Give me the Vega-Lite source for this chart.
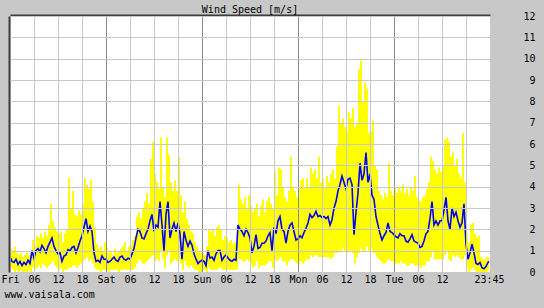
{
  "$schema": "https://vega.github.io/schema/vega-lite/v6.json",
  "width": 480,
  "height": 256,
  "autosize": {"type": "none"},
  "padding": {"left": 10, "top": 16, "right": 54, "bottom": 36},
  "background": "#c8c8c8",
  "title": {"text": "Wind Speed [m/s]", "font": "DejaVu Sans Mono", "fontSize": 10, "fontWeight": "normal", "color": "#000000", "offset": -5, "dy": 7, "anchor": "middle", "baseline": "alphabetic"},
  "config": {
    "view": {"fill": "#ffffff", "stroke": null},
    "axis": {"labelFont": "DejaVu Sans Mono", "labelFontSize": 10, "labelColor": "#000000", "titleFont": "DejaVu Sans Mono", "titleFontSize": 10, "titleFontWeight": "normal", "titleColor": "#000000"}
  },
  "data": {"values": [
    {"t":0,"a":0.7,"lo":0.2,"hi":1.1},{"t":0.5,"a":0.5,"lo":0.1,"hi":1.0},{"t":1,"a":0.45,"lo":0,"hi":1.2},{"t":1.5,"a":0.6,"lo":0.1,"hi":0.9},
    {"t":2,"a":0.35,"lo":0,"hi":0.8},{"t":2.5,"a":0.5,"lo":0.1,"hi":0.9},{"t":3,"a":0.3,"lo":0,"hi":0.7},{"t":3.5,"a":0.45,"lo":0,"hi":0.8},
    {"t":4,"a":0.35,"lo":0,"hi":0.9},{"t":4.5,"a":0.55,"lo":0.1,"hi":0.8},{"t":5,"a":0.4,"lo":0,"hi":0.9},{"t":5.5,"a":1.0,"lo":0.2,"hi":1.5},
    {"t":6,"a":0.65,"lo":0.1,"hi":1.2},{"t":6.5,"a":1.0,"lo":0.2,"hi":1.7},{"t":7,"a":1.1,"lo":0.3,"hi":1.6},{"t":7.5,"a":0.95,"lo":0.2,"hi":1.8},
    {"t":8,"a":1.25,"lo":0.4,"hi":1.6},{"t":8.5,"a":1.1,"lo":0.3,"hi":1.9},{"t":9,"a":0.9,"lo":0.2,"hi":1.7},{"t":9.5,"a":1.2,"lo":0.3,"hi":2.2},
    {"t":10,"a":1.4,"lo":0.4,"hi":3.2},{"t":10.5,"a":1.6,"lo":0.5,"hi":2.4},{"t":11,"a":1.2,"lo":0.3,"hi":2.1},{"t":11.5,"a":1.0,"lo":0.2,"hi":1.9},
    {"t":12,"a":0.85,"lo":0.1,"hi":1.8},{"t":12.5,"a":0.9,"lo":0.2,"hi":1.9},{"t":13,"a":0.5,"lo":0,"hi":1.4},{"t":13.5,"a":0.75,"lo":0.1,"hi":1.8},
    {"t":14,"a":0.8,"lo":0.1,"hi":2.0},{"t":14.5,"a":1.05,"lo":0.2,"hi":4.4},{"t":15,"a":1.0,"lo":0.2,"hi":3.0},{"t":15.5,"a":1.15,"lo":0.3,"hi":3.8},
    {"t":16,"a":1.2,"lo":0.3,"hi":2.7},{"t":16.5,"a":0.9,"lo":0.2,"hi":2.6},{"t":17,"a":1.15,"lo":0.3,"hi":2.9},{"t":17.5,"a":1.45,"lo":0.4,"hi":2.7},
    {"t":18,"a":1.7,"lo":0.5,"hi":3.2},{"t":18.5,"a":2.1,"lo":0.6,"hi":4.4},{"t":19,"a":2.5,"lo":0.7,"hi":4.1},{"t":19.5,"a":1.9,"lo":0.5,"hi":3.9},
    {"t":20,"a":2.15,"lo":0.6,"hi":4.3},{"t":20.5,"a":1.9,"lo":0.4,"hi":3.3},{"t":21,"a":0.9,"lo":0.2,"hi":2.1},{"t":21.5,"a":0.5,"lo":0.1,"hi":1.3},
    {"t":22,"a":0.55,"lo":0.1,"hi":1.1},{"t":22.5,"a":0.45,"lo":0,"hi":1.2},{"t":23,"a":0.75,"lo":0.1,"hi":1.0},{"t":23.5,"a":0.6,"lo":0.1,"hi":1.4},
    {"t":24,"a":0.6,"lo":0.1,"hi":1.1},{"t":24.5,"a":0.45,"lo":0,"hi":0.9},{"t":25,"a":0.5,"lo":0.1,"hi":1.0},{"t":25.5,"a":0.6,"lo":0.1,"hi":0.8},
    {"t":26,"a":0.7,"lo":0.1,"hi":1.1},{"t":26.5,"a":0.55,"lo":0.1,"hi":0.9},{"t":27,"a":0.5,"lo":0,"hi":1.0},{"t":27.5,"a":0.7,"lo":0.1,"hi":1.1},
    {"t":28,"a":0.75,"lo":0.1,"hi":1.2},{"t":28.5,"a":0.6,"lo":0.1,"hi":1.4},{"t":29,"a":0.55,"lo":0.1,"hi":1.0},{"t":29.5,"a":0.65,"lo":0.1,"hi":1.2},
    {"t":30,"a":0.6,"lo":0.1,"hi":1.3},{"t":30.5,"a":0.85,"lo":0.1,"hi":1.5},{"t":31,"a":1.1,"lo":0.2,"hi":1.7},{"t":31.5,"a":1.6,"lo":0.4,"hi":2.6},
    {"t":32,"a":2.0,"lo":0.6,"hi":2.8},{"t":32.5,"a":1.9,"lo":0.5,"hi":2.5},{"t":33,"a":1.6,"lo":0.4,"hi":3.0},{"t":33.5,"a":1.55,"lo":0.4,"hi":3.3},
    {"t":34,"a":1.8,"lo":0.5,"hi":3.7},{"t":34.5,"a":2.0,"lo":0.6,"hi":3.2},{"t":35,"a":2.4,"lo":0.7,"hi":5.3},{"t":35.5,"a":2.7,"lo":0.8,"hi":6.1},
    {"t":36,"a":1.9,"lo":0.5,"hi":4.6},{"t":36.5,"a":2.2,"lo":0.6,"hi":4.2},{"t":37,"a":2.1,"lo":0.5,"hi":3.9},{"t":37.5,"a":3.3,"lo":1.0,"hi":6.3},
    {"t":38,"a":2.2,"lo":0.6,"hi":4.0},{"t":38.5,"a":1.0,"lo":0.2,"hi":3.5},{"t":39,"a":2.7,"lo":0.8,"hi":6.3},{"t":39.5,"a":3.3,"lo":1.0,"hi":5.5},
    {"t":40,"a":1.6,"lo":0.4,"hi":4.2},{"t":40.5,"a":2.0,"lo":0.5,"hi":3.8},{"t":41,"a":2.3,"lo":0.6,"hi":4.3},{"t":41.5,"a":1.9,"lo":0.5,"hi":3.8},
    {"t":42,"a":2.3,"lo":0.6,"hi":5.4},{"t":42.5,"a":1.8,"lo":0.4,"hi":3.6},{"t":43,"a":0.6,"lo":0.1,"hi":2.8},{"t":43.5,"a":1.9,"lo":0.5,"hi":3.3},
    {"t":44,"a":1.5,"lo":0.3,"hi":2.5},{"t":44.5,"a":1.2,"lo":0.2,"hi":2.2},{"t":45,"a":1.45,"lo":0.3,"hi":1.9},{"t":45.5,"a":1.25,"lo":0.2,"hi":1.8},
    {"t":46,"a":0.85,"lo":0.1,"hi":1.4},{"t":46.5,"a":0.6,"lo":0.1,"hi":1.2},{"t":47,"a":0.4,"lo":0,"hi":1.0},{"t":47.5,"a":0.5,"lo":0,"hi":0.9},
    {"t":48,"a":0.55,"lo":0.1,"hi":0.9},{"t":48.5,"a":0.5,"lo":0.1,"hi":0.8},{"t":49,"a":0.3,"lo":0,"hi":1.2},{"t":49.5,"a":1.0,"lo":0.2,"hi":2.0},
    {"t":50,"a":0.65,"lo":0.1,"hi":1.9},{"t":50.5,"a":0.7,"lo":0.1,"hi":2.0},{"t":51,"a":0.55,"lo":0.1,"hi":1.7},{"t":51.5,"a":0.85,"lo":0.1,"hi":2.1},
    {"t":52,"a":1.0,"lo":0.2,"hi":2.2},{"t":52.5,"a":1.0,"lo":0.2,"hi":2.0},{"t":53,"a":0.55,"lo":0.1,"hi":1.5},{"t":53.5,"a":0.7,"lo":0.1,"hi":1.7},
    {"t":54,"a":0.8,"lo":0.1,"hi":1.6},{"t":54.5,"a":0.65,"lo":0.1,"hi":1.4},{"t":55,"a":0.55,"lo":0.1,"hi":1.5},{"t":55.5,"a":0.5,"lo":0.1,"hi":1.3},
    {"t":56,"a":0.6,"lo":0.1,"hi":1.4},{"t":56.5,"a":0.55,"lo":0.1,"hi":1.3},{"t":57,"a":2.2,"lo":0.6,"hi":4.1},{"t":57.5,"a":2.0,"lo":0.6,"hi":3.4},
    {"t":58,"a":1.9,"lo":0.5,"hi":3.2},{"t":58.5,"a":1.7,"lo":0.5,"hi":3.5},{"t":59,"a":2.0,"lo":0.6,"hi":3.0},{"t":59.5,"a":1.85,"lo":0.5,"hi":3.6},
    {"t":60,"a":1.6,"lo":0.4,"hi":3.1},{"t":60.5,"a":0.9,"lo":0.2,"hi":2.8},{"t":61,"a":1.2,"lo":0.3,"hi":3.0},{"t":61.5,"a":1.75,"lo":0.5,"hi":3.2},
    {"t":62,"a":1.1,"lo":0.2,"hi":2.6},{"t":62.5,"a":1.15,"lo":0.3,"hi":3.1},{"t":63,"a":1.35,"lo":0.3,"hi":3.4},{"t":63.5,"a":1.35,"lo":0.3,"hi":2.8},
    {"t":64,"a":1.45,"lo":0.4,"hi":3.3},{"t":64.5,"a":1.7,"lo":0.5,"hi":3.5},{"t":65,"a":1.85,"lo":0.5,"hi":3.2},{"t":65.5,"a":1.0,"lo":0.2,"hi":3.0},
    {"t":66,"a":2.1,"lo":0.6,"hi":4.7},{"t":66.5,"a":1.8,"lo":0.5,"hi":3.6},{"t":67,"a":2.4,"lo":0.6,"hi":4.9},{"t":67.5,"a":2.6,"lo":0.7,"hi":4.8},
    {"t":68,"a":2.0,"lo":0.5,"hi":4.0},{"t":68.5,"a":1.9,"lo":0.5,"hi":3.5},{"t":69,"a":1.35,"lo":0.3,"hi":3.3},{"t":69.5,"a":1.9,"lo":0.5,"hi":3.8},
    {"t":70,"a":2.2,"lo":0.6,"hi":5.4},{"t":70.5,"a":2.3,"lo":0.6,"hi":4.0},{"t":71,"a":1.9,"lo":0.5,"hi":3.8},{"t":71.5,"a":1.5,"lo":0.4,"hi":3.5},
    {"t":72,"a":1.55,"lo":0.4,"hi":3.9},{"t":72.5,"a":1.7,"lo":0.5,"hi":4.3},{"t":73,"a":1.6,"lo":0.4,"hi":4.4},{"t":73.5,"a":1.85,"lo":0.5,"hi":4.0},
    {"t":74,"a":2.05,"lo":0.6,"hi":4.4},{"t":74.5,"a":2.3,"lo":0.6,"hi":4.0},{"t":75,"a":2.7,"lo":0.8,"hi":4.9},{"t":75.5,"a":2.55,"lo":0.7,"hi":4.6},
    {"t":76,"a":2.65,"lo":0.8,"hi":4.8},{"t":76.5,"a":2.85,"lo":0.8,"hi":4.4},{"t":77,"a":2.6,"lo":0.7,"hi":5.4},{"t":77.5,"a":2.65,"lo":0.7,"hi":4.2},
    {"t":78,"a":2.55,"lo":0.7,"hi":4.4},{"t":78.5,"a":2.6,"lo":0.7,"hi":4.0},{"t":79,"a":2.5,"lo":0.7,"hi":4.5},{"t":79.5,"a":2.6,"lo":0.7,"hi":4.2},
    {"t":80,"a":2.2,"lo":0.6,"hi":4.6},{"t":80.5,"a":2.45,"lo":0.7,"hi":4.8},{"t":81,"a":3.0,"lo":0.9,"hi":4.4},{"t":81.5,"a":3.3,"lo":0.9,"hi":5.9},
    {"t":82,"a":3.8,"lo":1.0,"hi":7.8},{"t":82.5,"a":4.1,"lo":1.0,"hi":7.0},{"t":83,"a":4.5,"lo":1.1,"hi":7.2},{"t":83.5,"a":4.2,"lo":1.0,"hi":6.8},
    {"t":84,"a":3.9,"lo":0.9,"hi":6.6},{"t":84.5,"a":4.35,"lo":1.0,"hi":7.5},{"t":85,"a":4.4,"lo":1.0,"hi":7.2},{"t":85.5,"a":4.1,"lo":0.9,"hi":7.7},
    {"t":86,"a":1.75,"lo":0.4,"hi":6.8},{"t":86.5,"a":2.8,"lo":0.7,"hi":7.0},{"t":87,"a":3.7,"lo":0.9,"hi":9.5},{"t":87.5,"a":5.1,"lo":1.1,"hi":9.9},
    {"t":88,"a":4.3,"lo":1.0,"hi":8.0},{"t":88.5,"a":4.6,"lo":1.0,"hi":8.9},{"t":89,"a":5.6,"lo":1.2,"hi":8.6},{"t":89.5,"a":4.2,"lo":1.0,"hi":6.5},
    {"t":90,"a":4.6,"lo":1.1,"hi":6.6},{"t":90.5,"a":3.6,"lo":0.9,"hi":7.1},{"t":91,"a":3.4,"lo":0.9,"hi":5.0},{"t":91.5,"a":2.6,"lo":0.7,"hi":4.8},
    {"t":92,"a":2.2,"lo":0.6,"hi":3.8},{"t":92.5,"a":1.8,"lo":0.5,"hi":3.6},{"t":93,"a":1.5,"lo":0.4,"hi":3.4},{"t":93.5,"a":1.7,"lo":0.4,"hi":3.7},
    {"t":94,"a":1.85,"lo":0.5,"hi":3.5},{"t":94.5,"a":2.3,"lo":0.6,"hi":5.1},{"t":95,"a":1.9,"lo":0.5,"hi":3.8},{"t":95.5,"a":1.85,"lo":0.5,"hi":3.6},
    {"t":96,"a":1.75,"lo":0.4,"hi":3.9},{"t":96.5,"a":1.65,"lo":0.4,"hi":3.7},{"t":97,"a":1.6,"lo":0.4,"hi":4.0},{"t":97.5,"a":1.8,"lo":0.5,"hi":3.8},
    {"t":98,"a":1.7,"lo":0.4,"hi":4.1},{"t":98.5,"a":1.7,"lo":0.4,"hi":3.7},{"t":99,"a":1.45,"lo":0.3,"hi":3.9},{"t":99.5,"a":1.4,"lo":0.3,"hi":3.6},
    {"t":100,"a":1.55,"lo":0.4,"hi":4.0},{"t":100.5,"a":1.75,"lo":0.4,"hi":3.8},{"t":101,"a":1.45,"lo":0.3,"hi":4.5},{"t":101.5,"a":1.4,"lo":0.3,"hi":3.5},
    {"t":102,"a":1.35,"lo":0.3,"hi":3.4},{"t":102.5,"a":1.15,"lo":0.2,"hi":3.3},{"t":103,"a":1.2,"lo":0.3,"hi":3.5},{"t":103.5,"a":1.45,"lo":0.3,"hi":3.6},
    {"t":104,"a":1.8,"lo":0.5,"hi":3.9},{"t":104.5,"a":1.9,"lo":0.5,"hi":4.2},{"t":105,"a":2.5,"lo":0.7,"hi":5.4},{"t":105.5,"a":3.3,"lo":1.0,"hi":5.2},
    {"t":106,"a":2.2,"lo":0.6,"hi":4.8},{"t":106.5,"a":2.4,"lo":0.6,"hi":4.6},{"t":107,"a":2.2,"lo":0.6,"hi":4.9},{"t":107.5,"a":2.4,"lo":0.6,"hi":4.7},
    {"t":108,"a":2.4,"lo":0.6,"hi":5.0},{"t":108.5,"a":2.9,"lo":0.8,"hi":6.2},{"t":109,"a":3.5,"lo":1.0,"hi":6.3},{"t":109.5,"a":2.4,"lo":0.6,"hi":6.1},
    {"t":110,"a":2.0,"lo":0.5,"hi":5.4},{"t":110.5,"a":3.0,"lo":0.8,"hi":5.6},{"t":111,"a":2.6,"lo":0.7,"hi":5.0},{"t":111.5,"a":2.8,"lo":0.8,"hi":5.3},
    {"t":112,"a":2.4,"lo":0.7,"hi":4.6},{"t":112.5,"a":2.1,"lo":0.6,"hi":4.4},{"t":113,"a":2.3,"lo":0.6,"hi":6.5},{"t":113.5,"a":3.2,"lo":0.8,"hi":4.2},
    {"t":114,"a":1.3,"lo":0.2,"hi":1.8},{"t":114.5,"a":0.6,"lo":0,"hi":1.4},{"t":115,"a":0.9,"lo":0.1,"hi":2.2},{"t":115.5,"a":1.3,"lo":0.2,"hi":2.3},
    {"t":116,"a":0.9,"lo":0.1,"hi":1.8},{"t":116.5,"a":0.4,"lo":0,"hi":1.6},{"t":117,"a":0.35,"lo":0,"hi":1.7},{"t":117.5,"a":0.45,"lo":0,"hi":0.7},
    {"t":118,"a":0.2,"lo":0,"hi":0.6},{"t":118.5,"a":0.15,"lo":0,"hi":0.6},{"t":119,"a":0.25,"lo":0,"hi":0.7},{"t":119.5,"a":0.45,"lo":0.05,"hi":0.7},
    {"t":119.75,"a":0.5,"lo":0.1,"hi":0.7}
  ]},
  "layer": [
    {
      "mark": {"type": "area", "interpolate": "step-after", "color": "#ffff00"},
      "encoding": {
        "x": {"field": "t", "type": "quantitative", "scale": {"domain": [0, 120], "nice": false, "zero": false},
          "axis": {"orient": "bottom", "values": [0,6,12,18,24,30,36,42,48,54,60,66,72,78,84,90,96,102,108,114,119.75],
            "labelExpr": "datum.value == 119.75 ? '23:45' : (datum.value == 114 ? '' : (datum.value % 24 == 0 ? ['Fri','Sat','Sun','Mon','Tue'][datum.value / 24] : ((datum.value % 24 < 10 ? '0' : '') + (datum.value % 24))))",
            "labelFlush": false, "labelOverlap": false, "labelBound": false, "labelPadding": 2, "labelAngle": 0,
            "ticks": false, "domain": false, "grid": true, "gridWidth": 1, "zindex": 1,
            "gridColor": {"condition": [{"test": "datum.value > 119", "value": "transparent"}, {"test": "datum.value % 24 == 0", "value": "#8c8c8c"}], "value": "#c8c8c8"},
            "title": "www.vaisala.com", "titleAnchor": "start", "titleAlign": "left", "titleBaseline": "alphabetic", "titleX": -6, "titleY": 25}},
        "y": {"field": "hi", "type": "quantitative", "scale": {"domain": [0, 12], "nice": false},
          "axis": {"orient": "right", "values": [0,1,2,3,4,5,6,7,8,9,10,11,12], "ticks": false, "domain": false, "labelAlign": "right", "labelPadding": 45,
            "grid": true, "gridColor": "#c8c8c8", "gridWidth": 1, "zindex": 1, "title": null}},
        "y2": {"field": "lo"}
      }
    },
    {
      "mark": {"type": "line", "color": "#0000ff", "strokeWidth": 1.6},
      "encoding": {
        "x": {"field": "t", "type": "quantitative", "scale": {"domain": [0, 120], "nice": false, "zero": false},
          "axis": {"orient": "top", "labels": false, "ticks": false, "grid": false, "domain": true, "domainColor": "#3c3c3c", "domainWidth": 2, "offset": 1, "title": null}},
        "y": {"field": "a", "type": "quantitative", "scale": {"domain": [0, 12], "nice": false},
          "axis": {"orient": "left", "labels": false, "ticks": false, "grid": false, "domain": true, "domainColor": "#3c3c3c", "domainWidth": 2, "offset": 1, "title": null}}
      }
    }
  ],
  "resolve": {"axis": {"x": "independent", "y": "independent"}}
}
